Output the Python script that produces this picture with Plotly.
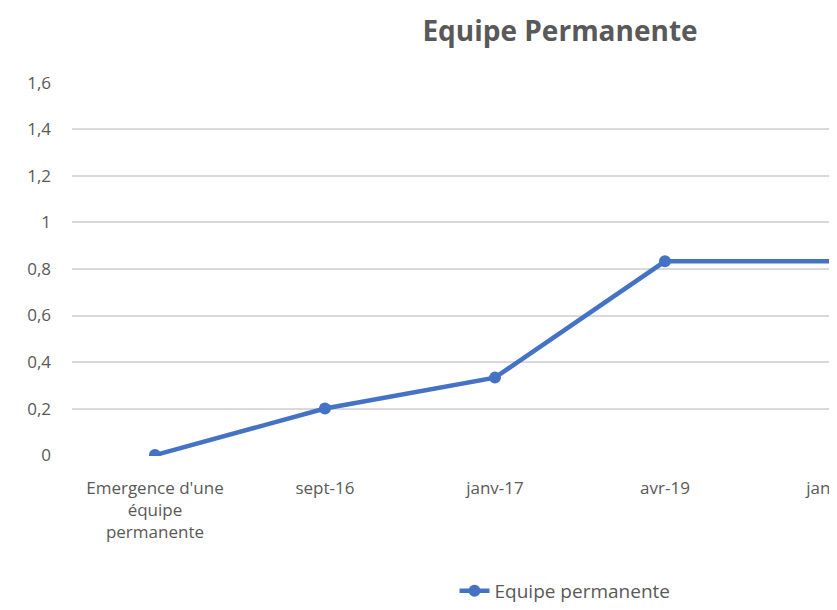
import plotly.graph_objects as go

# Données du graphique
categories = ["Emergence d'une<br>équipe<br>permanente", "sept-16", "janv-17", "avr-19", "janv-20"]
valeurs = [0, 0.2, 0.333, 0.833, 0.833]
y_ticks = [0, 0.2, 0.4, 0.6, 0.8, 1, 1.2, 1.4, 1.6]
y_labels = ["0", "0,2", "0,4", "0,6", "0,8", "1", "1,2", "1,4", "1,6"]

bleu = "#4472C4"
gris = "#595959"

# la page a une marge de 8px autour du graphique
W, H = 829, 602
haut, bas = 74, 144
h_plot = H - haut - bas

fig = go.Figure()
fig.add_trace(go.Scatter(
    x=list(range(len(categories))), y=valeurs,
    mode="lines+markers", name="Equipe permanente",
    line=dict(color=bleu, width=4.5),
    marker=dict(color=bleu, size=12),
    cliponaxis=True,
))

fig.update_layout(
    width=W, height=H,
    paper_bgcolor="white", plot_bgcolor="white",
    margin=dict(l=64, r=0, t=haut, b=bas),
    font=dict(family="Open Sans", color=gris, size=17),
    title=dict(text="<b>Equipe Permanente</b>", x=552/W, xanchor="center",
               y=1 - 23/H, yanchor="middle",
               font=dict(size=28, color=gris, family="Open Sans")),
    showlegend=True,
    legend=dict(orientation="h", x=(557 - 64) / 765, xanchor="center",
                y=-(597 - (H - bas)) / h_plot, yanchor="middle",
                font=dict(size=19, color=gris)),
)
fig.update_xaxes(
    tickmode="array", tickvals=list(range(len(categories))), ticktext=categories,
    range=[-0.488, 4.012], showgrid=False, zeroline=False, showline=False,
    automargin=False, ticklabelstandoff=20, ticklabeloverflow="allow",
    tickfont=dict(size=17, color=gris),
)
fig.update_yaxes(
    tickmode="array", tickvals=y_ticks, ticktext=y_labels, range=[-0.004, 1.604],
    showgrid=True, gridcolor="#D9D9D9", gridwidth=1.5, zeroline=False,
    automargin=False, ticklabelstandoff=20, tickfont=dict(size=17, color=gris),
)

fig.write_html("out.html")
